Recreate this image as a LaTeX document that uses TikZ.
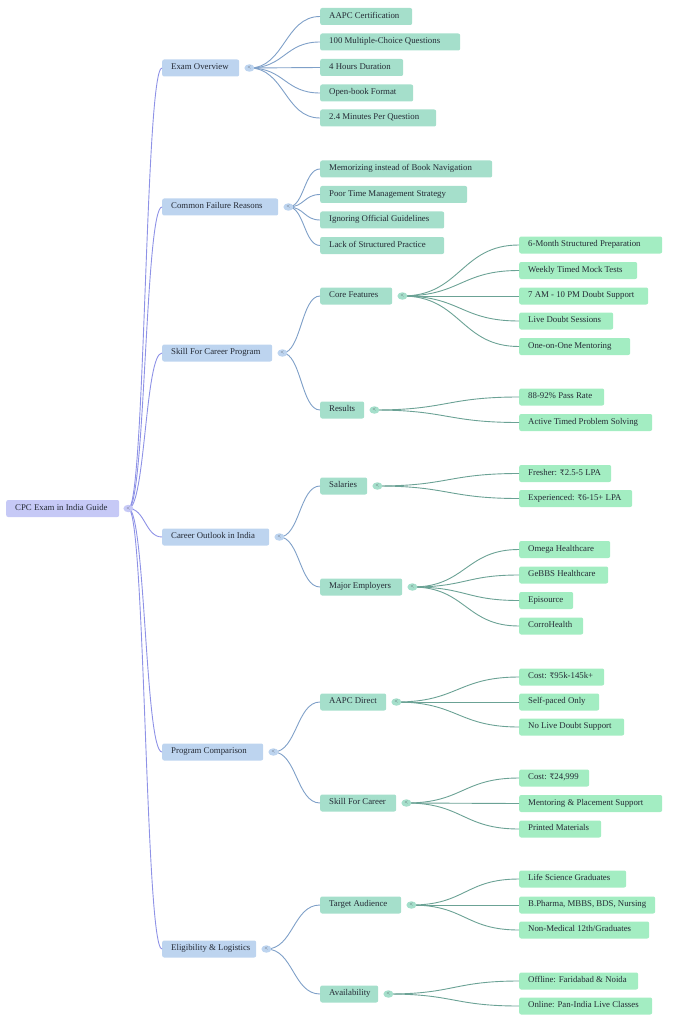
\documentclass[tikz,border=0pt]{standalone}
\usepackage{fontspec}
\setmainfont{Liberation Serif}
\newfontfamily\rupfont{DejaVu Serif}
\usetikzlibrary{calc,shapes.geometric}
\definecolor{rootfill}{HTML}{C6C9F6}
\definecolor{lonefill}{HTML}{BDD4EF}
\definecolor{ltwofill}{HTML}{A5DFCB}
\definecolor{lthreefill}{HTML}{A3EDC2}
\definecolor{rootedge}{HTML}{8E92E6}
\definecolor{loneedge}{HTML}{7FA0C8}
\definecolor{ltwoedge}{HTML}{6BA295}
\definecolor{txt}{HTML}{252B36}
\newcommand\rs{{\rupfont\fontsize{7.5}{8}\selectfont ₹}}
\newcommand\mystrut{\rule[-2.4pt]{0pt}{8.4pt}}
\tikzset{
  boxbase/.style={rounded corners=2pt, minimum height=17pt, inner xsep=9pt, inner ysep=0pt,
    text=txt, font=\fontsize{8.8}{10}\selectfont, anchor=west},
  rootbox/.style={boxbase, fill=rootfill},
  onebox/.style={boxbase, fill=lonefill},
  twobox/.style={boxbase, fill=ltwofill},
  threebox/.style={boxbase, fill=lthreefill},
  tog/.style={ellipse, minimum width=10pt, minimum height=7.5pt, inner sep=0pt,
    text=txt!80, font=\fontsize{6}{6}\selectfont},
  rootline/.style={draw=rootedge, line width=0.9pt},
  oneline/.style={draw=loneedge, line width=0.9pt},
  twoline/.style={draw=ltwoedge, line width=0.9pt},
}
\newcommand\nd[6]{\node[#1] (#2) at (#3,#4) {\makebox[\dimexpr#5pt-18pt\relax][l]{\mystrut #6}};}
\newcommand\cn[3]{\path[#1] let \p1=(#2), \p2=(#3.west) in
  (\p1) .. controls ({0.5*\x1+0.5*\x2},\y1) and ({0.5*\x1+0.5*\x2},\y2) .. (\p2);}
\begin{document}
\begin{tikzpicture}[x=1pt,y=-1pt]
\useasboundingbox (0,0) rectangle (683,1024);
% root
\nd{rootbox}{root}{6}{508.5}{113}{CPC Exam in India Guide}
% level 1
\nd{onebox}{E}{162}{68}{77}{Exam Overview}
\nd{onebox}{C}{162}{207}{116}{Common Failure Reasons}
\nd{onebox}{S}{162}{353}{110}{Skill For Career Program}
\nd{onebox}{O}{162}{537}{107}{Career Outlook in India}
\nd{onebox}{P}{162}{752}{101}{Program Comparison}
\nd{onebox}{L}{162}{949}{94}{Eligibility \& Logistics}
% Exam overview children
\nd{twobox}{E1}{320}{16.5}{92}{AAPC Certification}
\nd{twobox}{E2}{320}{42}{140}{100 Multiple-Choice Questions}
\nd{twobox}{E3}{320}{67.5}{83}{4 Hours Duration}
\nd{twobox}{E4}{320}{93}{93}{Open-book Format}
\nd{twobox}{E5}{320}{118}{116}{2.4 Minutes Per Question}
% Common failure children
\nd{twobox}{C1}{320}{169}{172}{Memorizing instead of Book Navigation}
\nd{twobox}{C2}{320}{194.5}{147}{Poor Time Management Strategy}
\nd{twobox}{C3}{320}{220}{124}{Ignoring Official Guidelines}
\nd{twobox}{C4}{320}{245.5}{124}{Lack of Structured Practice}
% Skill for career program
\nd{twobox}{S1}{320}{296}{72}{Core Features}
\nd{twobox}{S2}{320}{410}{44}{Results}
\nd{threebox}{S11}{519}{245}{143}{6-Month Structured Preparation}
\nd{threebox}{S12}{519}{270.5}{118}{Weekly Timed Mock Tests}
\nd{threebox}{S13}{519}{296}{129}{7 AM - 10 PM Doubt Support}
\nd{threebox}{S14}{519}{321}{94}{Live Doubt Sessions}
\nd{threebox}{S15}{519}{346.5}{111}{One-on-One Mentoring}
\nd{threebox}{S21}{519}{397}{85}{88-92\% Pass Rate}
\nd{threebox}{S22}{519}{422.5}{133}{Active Timed Problem Solving}
% Career outlook
\nd{twobox}{O1}{320}{486}{47}{Salaries}
\nd{twobox}{O2}{320}{587}{82}{Major Employers}
\nd{threebox}{O11}{519}{473.5}{92}{Fresher: \rs2.5-5 LPA}
\nd{threebox}{O12}{519}{498.5}{113}{Experienced: \rs6-15+ LPA}
\nd{threebox}{O21}{519}{549.5}{91}{Omega Healthcare}
\nd{threebox}{O22}{519}{575}{89}{GeBBS Healthcare}
\nd{threebox}{O23}{519}{600.5}{54}{Episource}
\nd{threebox}{O24}{519}{626}{64}{CorroHealth}
% Program comparison
\nd{twobox}{P1}{320}{702}{66}{AAPC Direct}
\nd{twobox}{P2}{320}{803}{76}{Skill For Career}
\nd{threebox}{P11}{519}{677}{85}{Cost: \rs95k-145k+}
\nd{threebox}{P12}{519}{702}{80}{Self-paced Only}
\nd{threebox}{P13}{519}{727}{105}{No Live Doubt Support}
\nd{threebox}{P21}{519}{778}{70}{Cost: \rs24,999}
\nd{threebox}{P22}{519}{803.5}{143}{Mentoring \& Placement Support}
\nd{threebox}{P23}{519}{829}{82}{Printed Materials}
% Eligibility
\nd{twobox}{L1}{320}{905}{81}{Target Audience}
\nd{twobox}{L2}{320}{994}{58}{Availability}
\nd{threebox}{L11}{519}{879}{107}{Life Science Graduates}
\nd{threebox}{L12}{519}{905}{136}{B.Pharma, MBBS, BDS, Nursing}
\nd{threebox}{L13}{519}{930}{130}{Non-Medical 12th/Graduates}
\nd{threebox}{L21}{519}{981}{119}{Offline: Faridabad \& Noida}
\nd{threebox}{L22}{519}{1006}{133}{Online: Pan-India Live Classes}
% toggle positions
\path ($(root.east)+(9,0)$) coordinate (troot);
\foreach \k in {E,C,S,O,P,L,S1,S2,O1,O2,P1,P2,L1,L2}{
  \path ($(\k.east)+(10,0)$) coordinate (t\k);
}
% connectors
\foreach \k in {E,C,S,O,P,L}{ \cn{rootline}{troot}{\k} }
\foreach \k in {E1,E2,E3,E4,E5}{ \cn{oneline}{tE}{\k} }
\foreach \k in {C1,C2,C3,C4}{ \cn{oneline}{tC}{\k} }
\foreach \k in {S1,S2}{ \cn{oneline}{tS}{\k} }
\foreach \k in {O1,O2}{ \cn{oneline}{tO}{\k} }
\foreach \k in {P1,P2}{ \cn{oneline}{tP}{\k} }
\foreach \k in {L1,L2}{ \cn{oneline}{tL}{\k} }
\foreach \k in {S11,S12,S13,S14,S15}{ \cn{twoline}{tS1}{\k} }
\foreach \k in {S21,S22}{ \cn{twoline}{tS2}{\k} }
\foreach \k in {O11,O12}{ \cn{twoline}{tO1}{\k} }
\foreach \k in {O21,O22,O23,O24}{ \cn{twoline}{tO2}{\k} }
\foreach \k in {P11,P12,P13}{ \cn{twoline}{tP1}{\k} }
\foreach \k in {P21,P22,P23}{ \cn{twoline}{tP2}{\k} }
\foreach \k in {L11,L12,L13}{ \cn{twoline}{tL1}{\k} }
\foreach \k in {L21,L22}{ \cn{twoline}{tL2}{\k} }
% toggles
\node[tog,fill=rootfill] (groot) at (troot) {<};
\foreach \k in {E,C,S,O,P,L}{ \node[tog,fill=lonefill] (g\k) at (t\k) {<}; }
\foreach \k in {S1,S2,O1,O2,P1,P2,L1,L2}{ \node[tog,fill=ltwofill] (g\k) at (t\k) {<}; }
\end{tikzpicture}
\end{document}
